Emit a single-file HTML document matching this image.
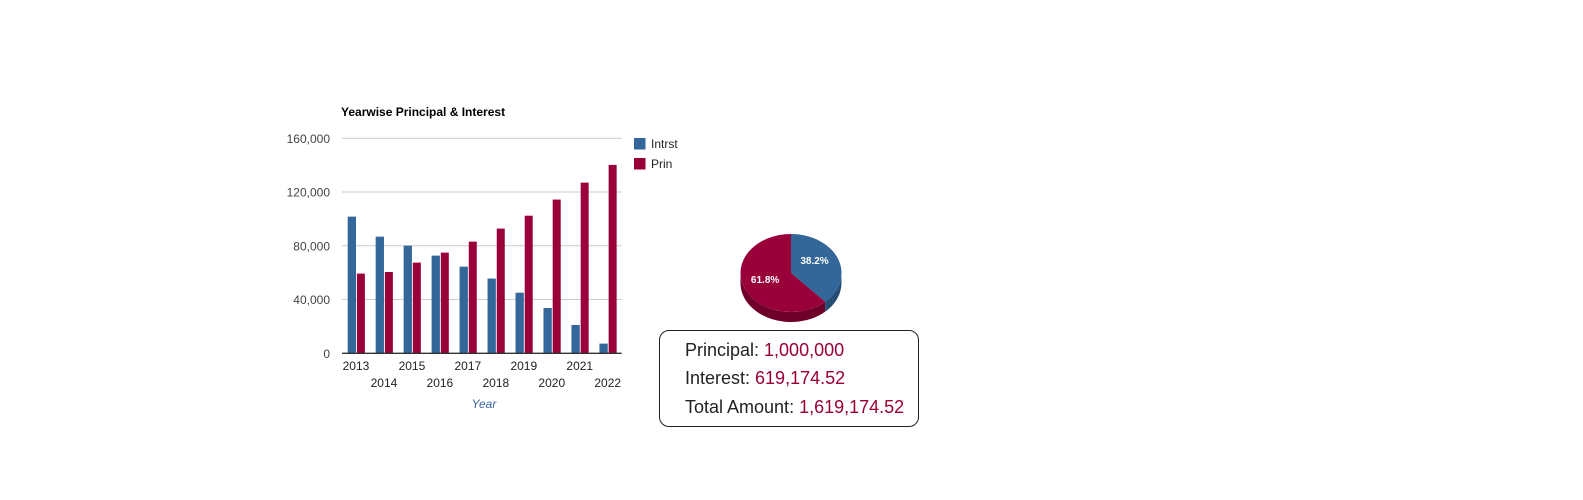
<!DOCTYPE html>
<html><head><meta charset="utf-8"><style>
body{margin:0;background:#fff;width:1583px;height:500px;overflow:hidden;font-family:"Liberation Sans",Arial,sans-serif}
svg{position:absolute;left:0;top:0}
#box{position:absolute;left:659px;top:330px;width:260px;height:97px;border:1px solid #222;border-radius:10px;box-sizing:border-box;font-size:18px;color:#222}
#box div{position:absolute;left:25px}
#box span{color:#99003a}
</style></head><body>
<svg width="1583" height="500" id="chart"></svg>
<div id="box">
<div style="top:9px">Principal: <span>1,000,000</span></div>
<div style="top:37px">Interest: <span>619,174.52</span></div>
<div style="top:66px">Total Amount: <span>1,619,174.52</span></div>
</div>
<script>
const years=["2013","2014","2015","2016","2017","2018","2019","2020","2021","2022"];
const intrst=[101700,86800,80100,72700,64500,55600,45100,33700,21100,7200];
const prin=[59300,60500,67500,74900,83100,92800,102400,114400,127000,140200];
const yTicks=[0,40000,80000,120000,160000];
const yTickLabels=["0","40,000","80,000","120,000","160,000"];
const pieValues=[38.2,61.8];
const pieLabels=["38.2%","61.8%"];
const NS="http://www.w3.org/2000/svg";
const svg=document.getElementById('chart');
function mk(t,a,txt){const e=document.createElementNS(NS,t);for(const k in a)e.setAttribute(k,a[k]);if(txt!==undefined)e.textContent=txt;svg.appendChild(e);return e;}
const X0=342,X1=621.7,Y0=353.3,YT=138.3;
const step=(X1-X0)/years.length;
const y=v=>Y0-(v/160000)*(Y0-YT);
const gx=i=>X0+i*step;
let t=mk('text',{x:341,y:116,'font-size':12,'font-weight':'bold',fill:'#000'},'Yearwise Principal & Interest');


yTicks.forEach((v,i)=>{
  if(v>0){let g=mk('line',{x1:X0,x2:X1,y1:y(v),y2:y(v),stroke:'#ccc','stroke-width':1});
  
  }
  let l=mk('text',{x:330,y:y(v)+4.5,'font-size':12,fill:'#444','text-anchor':'end'},yTickLabels[i]);
  
  
});
years.forEach((yr,i)=>{
  let b=mk('rect',{x:gx(i)+5.7,y:y(intrst[i]),width:8.3,height:Y0-y(intrst[i]),fill:'#336699'});
  
  
  let r=mk('rect',{x:gx(i)+14.9,y:y(prin[i]),width:8,height:Y0-y(prin[i]),fill:'#99003a'});
  
  
  let l=mk('text',{x:gx(i)+step/2,y:i%2?387:370,'font-size':12,fill:'#222','text-anchor':'middle'},yr);
  
  
});
let ax=mk('line',{x1:X0,x2:X1,y1:Y0,y2:Y0,stroke:'#333','stroke-width':1.3});


let xt=mk('text',{x:484,y:408,'font-size':12,'font-style':'italic',fill:'#3f62a0','text-anchor':'middle'},'Year');


[['Intrst','#336699',138],['Prin','#99003a',158]].forEach(([n,c,yy])=>{
  let s=mk('rect',{x:634,y:yy,width:11.5,height:11.5,fill:c});
  
  
  let l=mk('text',{x:651,y:yy+10,'font-size':12,fill:'#222'},n);
  
  
});
// pie
const cx=791,cy=273,rx=50.5,ry=39,d=10;
const tot=pieValues[0]+pieValues[1];
const a=pieValues[0]/tot*2*Math.PI;
const px=th=>cx+rx*Math.sin(th), py=th=>cy-ry*Math.cos(th);
let sideR=mk('path',{d:`M${px(a)},${py(a)} A${rx},${ry} 0 0 1 ${cx-rx},${cy} L${cx-rx},${cy+d} A${rx},${ry} 0 0 0 ${px(a)},${py(a)+d} Z`,fill:'#6e0029'});


let sideB=mk('path',{d:`M${cx+rx},${cy} A${rx},${ry} 0 0 1 ${px(a)},${py(a)} L${px(a)},${py(a)+d} A${rx},${ry} 0 0 0 ${cx+rx},${cy+d} Z`,fill:'#264d73'});


let s1=mk('path',{d:`M${cx},${cy} L${cx},${cy-ry} A${rx},${ry} 0 0 1 ${px(a)},${py(a)} Z`,fill:'#336699'});


let s2=mk('path',{d:`M${cx},${cy} L${px(a)},${py(a)} A${rx},${ry} 0 ${a<Math.PI?1:0} 1 ${cx},${cy-ry} Z`,fill:'#99003a'});


const m1=a/2,m2=a+(2*Math.PI-a)/2;
let l1=mk('text',{x:cx+rx*0.5*Math.sin(m1),y:cy-ry*0.5*Math.cos(m1)-2,'font-size':10,'font-weight':'bold',fill:'#fff','text-anchor':'middle'},pieLabels[0]);


let l2=mk('text',{x:cx+rx*0.55*Math.sin(m2),y:cy-ry*0.55*Math.cos(m2)+2,'font-size':10,'font-weight':'bold',fill:'#fff','text-anchor':'middle'},pieLabels[1]);


</script>
</body></html>
